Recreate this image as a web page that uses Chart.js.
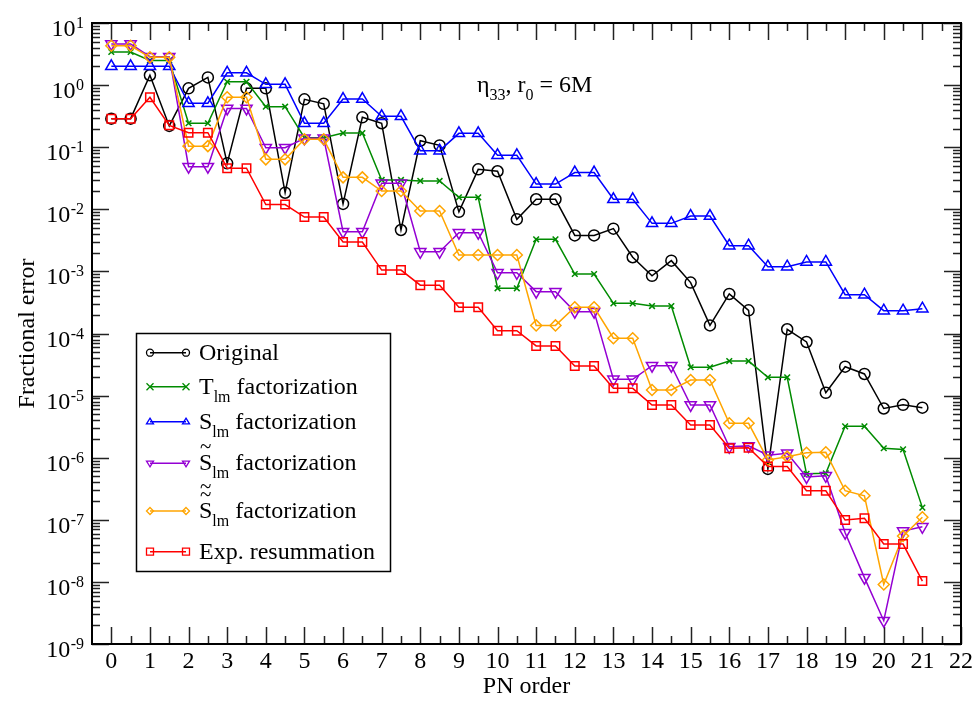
<!DOCTYPE html>
<html><head><meta charset="utf-8">
<script src="https://cdn.jsdelivr.net/npm/chart.js@4.4.0/dist/chart.umd.min.js"></script>
<style>html,body{margin:0;padding:0;background:#fff}canvas{display:block}</style>
</head><body>
<canvas id="c" width="978" height="702"></canvas>
<script>
const pnOrder = [0,0.5,1,1.5,2,2.5,3,3.5,4,4.5,5,5.5,6,6.5,7,7.5,8,8.5,9,9.5,10,10.5,11,11.5,12,12.5,13,13.5,14,14.5,15,15.5,16,16.5,17,17.5,18,18.5,19,19.5,20,20.5,21];
const original = [0.288,0.288,1.44,0.22,0.887,1.33,0.055,0.887,0.887,0.0185,0.59,0.50,0.0122,0.303,0.243,0.00464,0.127,0.107,0.0091,0.044,0.041,0.0069,0.0145,0.0145,0.0038,0.0038,0.00488,0.00169,0.00085,0.00149,0.00066,0.000135,0.000433,0.000236,6.6e-7,0.000117,7.3e-5,1.11e-5,2.92e-5,2.23e-5,6.2e-6,7.1e-6,6.4e-6];
const tlmFact = [3.41,3.41,2.5,2.5,0.243,0.243,1.13,1.13,0.449,0.449,0.142,0.142,0.169,0.169,0.0297,0.0297,0.0286,0.0286,0.0156,0.0156,0.000535,0.000535,0.00329,0.00329,0.000908,0.000908,0.000306,0.000306,0.000277,0.000277,2.86e-5,2.86e-5,3.6e-5,3.6e-5,1.97e-5,1.97e-5,5.5e-7,5.6e-7,3.2e-6,3.2e-6,1.42e-6,1.36e-6,1.57e-7];
const slmFact = [2.01,2.01,2.01,2.01,0.51,0.51,1.58,1.58,1.03,1.03,0.243,0.243,0.597,0.597,0.314,0.314,0.088,0.088,0.167,0.167,0.074,0.074,0.0255,0.0255,0.039,0.039,0.0145,0.0145,0.00594,0.00594,0.0078,0.0078,0.0026,0.0026,0.00119,0.00119,0.00142,0.00142,0.000421,0.000421,0.000233,0.000233,0.000251];
const slmTildeFact = [4.6,4.6,2.87,2.87,0.0485,0.0485,0.42,0.42,0.098,0.098,0.139,0.139,0.00435,0.00435,0.0262,0.0262,0.00207,0.00207,0.0042,0.0042,0.00095,0.00095,0.000472,0.000472,0.000225,0.000225,1.83e-5,1.83e-5,3.03e-5,3.03e-5,7.06e-6,7.06e-6,1.5e-6,1.55e-6,1.1e-6,1.18e-6,4.9e-7,5.1e-7,6.2e-8,1.17e-8,2.37e-9,6.6e-8,7.7e-8];
const slmDTildeFact = [4.3,4.3,2.8,2.8,0.104,0.104,0.637,0.637,0.0638,0.0638,0.134,0.134,0.0327,0.0327,0.0197,0.0197,0.0094,0.0094,0.00184,0.00184,0.00184,0.00184,0.000135,0.000135,0.000264,0.000264,8.4e-5,8.4e-5,1.23e-5,1.23e-5,1.78e-5,1.78e-5,3.58e-6,3.58e-6,9.2e-7,1.04e-6,1.2e-6,1.22e-6,2.94e-7,2.44e-7,9.1e-9,5.5e-8,1.1e-7];
const expResum = [0.288,0.288,0.637,0.225,0.171,0.171,0.046,0.046,0.0119,0.0119,0.0075,0.0075,0.00297,0.00297,0.00105,0.00105,0.0006,0.0006,0.000264,0.000264,0.000111,0.000111,6.3e-5,6.3e-5,3.0e-5,3.0e-5,1.31e-5,1.31e-5,7.06e-6,7.06e-6,3.37e-6,3.37e-6,1.42e-6,1.45e-6,7.2e-7,7.2e-7,2.94e-7,2.94e-7,9.9e-8,1.06e-7,4.07e-8,4.07e-8,1.03e-8];
const xTickLabels = [0,1,2,3,4,5,6,7,8,9,10,11,12,13,14,15,16,17,18,19,20,21,22];
const yExponents = [-9,-8,-7,-6,-5,-4,-3,-2,-1,0,1];
const seriesLabels = ['Original','T_lm factorization','S_lm factorization','S~_lm factorization','S~~_lm factorization','Exp. resummation'];

const FONT = '"Liberation Serif", "Times New Roman", serif';
const specs = [
  {data: original, color:'#000000', style:'circle', radius:5.5, rot:0, lg:'circle'},
  {data: tlmFact, color:'#008b00', style:'crossRot', radius:4, rot:0, lg:'cross'},
  {data: slmFact, color:'#0000ff', style:'triangle', radius:6.5, rot:0, lg:'tri'},
  {data: slmTildeFact, color:'#9400d3', style:'triangle', radius:6.5, rot:180, lg:'triDown'},
  {data: slmDTildeFact, color:'#ffa500', style:'rectRot', radius:5.5, rot:0, lg:'diamond'},
  {data: expResum, color:'#ff0000', style:'rect', radius:6, rot:0, lg:'square'}
];

function drawMarker(ctx, style, x, y, r, color) {
  ctx.save(); ctx.strokeStyle = color; ctx.lineWidth = 1.3; ctx.beginPath();
  if (style === 'circle') ctx.arc(x, y, r, 0, 2*Math.PI);
  else if (style === 'cross') { ctx.moveTo(x-r,y-r); ctx.lineTo(x+r,y+r); ctx.moveTo(x-r,y+r); ctx.lineTo(x+r,y-r); }
  else if (style === 'tri') { ctx.moveTo(x,y-r); ctx.lineTo(x+r,y+r*0.6); ctx.lineTo(x-r,y+r*0.6); ctx.closePath(); }
  else if (style === 'triDown') { ctx.moveTo(x,y+r); ctx.lineTo(x+r,y-r*0.6); ctx.lineTo(x-r,y-r*0.6); ctx.closePath(); }
  else if (style === 'diamond') { ctx.moveTo(x,y-r); ctx.lineTo(x+r,y); ctx.lineTo(x,y+r); ctx.lineTo(x-r,y); ctx.closePath(); }
  else if (style === 'square') { ctx.rect(x-r,y-r,2*r,2*r); }
  ctx.stroke(); ctx.restore();
}

function drawRich(ctx, x, y, parts, size) {
  ctx.textAlign = 'left'; ctx.textBaseline = 'alphabetic'; ctx.fillStyle = '#000';
  for (const p of parts) {
    const fs = p.sub ? Math.round(size*0.68) : size;
    ctx.font = fs + 'px ' + FONT;
    const yy = p.sub ? y + 8 : y;
    ctx.fillText(p.t, x, yy);
    const w = ctx.measureText(p.t).width;
    if (p.tilde) {
      ctx.font = '21px ' + FONT; ctx.textAlign = 'center'; ctx.textBaseline = 'middle';
      for (let k = 0; k < p.tilde; k++) ctx.fillText('~', x + w/2, y - 23 - 8*k);
      ctx.textAlign = 'left'; ctx.textBaseline = 'alphabetic';
    }
    x += w;
  }
  return x;
}

const framePlugin = {
  id: 'frame',
  beforeDatasetsDraw(chart) {
    const ctx = chart.ctx, a = chart.chartArea, xs = chart.scales.x, ys = chart.scales.y;
    ctx.save();
    ctx.strokeStyle = '#222'; ctx.lineWidth = 1.5;
    ctx.beginPath();
    for (const e of yExponents) {
      for (let m = 1; m <= 9; m++) {
        const v = m * Math.pow(10, e);
        if (v > 10.0001) break;
        const py = Math.round(ys.getPixelForValue(v)) + 0.5;
        const len = m === 1 ? 17 : 8;
        ctx.moveTo(a.left, py); ctx.lineTo(a.left + len, py);
        ctx.moveTo(a.right, py); ctx.lineTo(a.right - len, py);
      }
    }
    for (let i = 0; i <= 44; i++) {
      const px = Math.round(xs.getPixelForValue(i/2)) + 0.5;
      const len = i % 2 === 0 ? 17 : 8;
      ctx.moveTo(px, a.bottom); ctx.lineTo(px, a.bottom - len);
      ctx.moveTo(px, a.top); ctx.lineTo(px, a.top + len);
    }
    ctx.stroke();
    ctx.strokeStyle = '#000'; ctx.lineWidth = 2;
    ctx.strokeRect(a.left, a.top, a.right - a.left, a.bottom - a.top);
    ctx.restore();
  },
  afterDatasetsDraw(chart) {
    const ctx = chart.ctx, ys = chart.scales.y;
    ctx.save();
    for (const e of yExponents) {
      const py = ys.getPixelForValue(Math.pow(10, e));
      const es = String(e);
      ctx.font = '16px ' + FONT; ctx.fillStyle = '#000'; ctx.textBaseline = 'alphabetic'; ctx.textAlign = 'right';
      const ew = ctx.measureText(es).width;
      ctx.fillText(es, 84, py + 5);
      ctx.font = '24px ' + FONT;
      ctx.fillText('10', 84 - ew - 0.5, py + 13);
    }
    drawRich(ctx, 477, 92, [{t:'\u03B7'},{t:'33',sub:true},{t:', r'},{t:'0',sub:true},{t:' = 6M'}], 24);
    const bx = 136, by = 333, bw = 254, bh = 238;
    ctx.fillStyle = '#fff'; ctx.fillRect(bx, by, bw, bh);
    ctx.strokeStyle = '#000'; ctx.lineWidth = 1.5; ctx.strokeRect(bx + 0.5, by + 0.5, bw, bh);
    const rowsY = [352.7, 386.7, 421.7, 463.3, 511, 551.7];
    const rowParts = [
      [{t:'Original'}],
      [{t:'T'},{t:'lm',sub:true},{t:' factorization'}],
      [{t:'S'},{t:'lm',sub:true},{t:' factorization'}],
      [{t:'S',tilde:1},{t:'lm',sub:true},{t:' factorization'}],
      [{t:'S',tilde:2},{t:'lm',sub:true},{t:' factorization'}],
      [{t:'Exp. resummation'}]
    ];
    specs.forEach((s, i) => {
      const y = rowsY[i];
      ctx.strokeStyle = s.color; ctx.lineWidth = 1.5;
      ctx.beginPath(); ctx.moveTo(150, y); ctx.lineTo(186, y); ctx.stroke();
      drawMarker(ctx, s.lg, 150, y, 3.5, s.color);
      drawMarker(ctx, s.lg, 186, y, 3.5, s.color);
      drawRich(ctx, 199, y + 7, rowParts[i], 24);
    });
    ctx.restore();
  }
};

new Chart(document.getElementById('c').getContext('2d'), {
  type: 'line',
  data: {
    datasets: specs.map((s, i) => ({
      label: seriesLabels[i],
      data: pnOrder.map((x, j) => ({x: x, y: s.data[j]})),
      borderColor: s.color, backgroundColor: 'rgba(0,0,0,0)',
      pointBorderColor: s.color, pointBackgroundColor: 'rgba(0,0,0,0)',
      pointStyle: s.style, pointRadius: s.radius, pointRotation: s.rot,
      pointBorderWidth: 1.5, borderWidth: 1.5, tension: 0, fill: false,
      order: 5 - i
    }))
  },
  options: {
    responsive: false, animation: false, devicePixelRatio: 1,
    layout: {padding: {top: 23, right: 17, left: 0, bottom: 0}},
    plugins: {legend: {display: false}, tooltip: {enabled: false}},
    scales: {
      x: {
        type: 'linear', min: -0.5, max: 22,
        afterBuildTicks: s => { s.ticks = xTickLabels.map(v => ({value: v})); },
        afterFit: s => { s.height = 58; },
        grid: {display: false, drawTicks: false}, border: {display: false},
        ticks: {font: {family: FONT, size: 24}, color: '#000', padding: 3, autoSkip: false, maxRotation: 0, callback: v => String(v)},
        title: {display: true, text: 'PN order', font: {family: FONT, size: 24}, color: '#000', padding: {top: 0, bottom: 1}}
      },
      y: {
        type: 'logarithmic', min: 1e-9, max: 10,
        afterBuildTicks: s => { s.ticks = yExponents.map(e => ({value: Math.pow(10, e)})); },
        afterFit: s => { s.width = 92; },
        grid: {display: false, drawTicks: false}, border: {display: false},
        ticks: {display: false},
        title: {display: true, text: 'Fractional error', font: {family: FONT, size: 24}, color: '#000', padding: {top: 13, bottom: 0}}
      }
    }
  },
  plugins: [framePlugin]
});
</script>
</body></html>
